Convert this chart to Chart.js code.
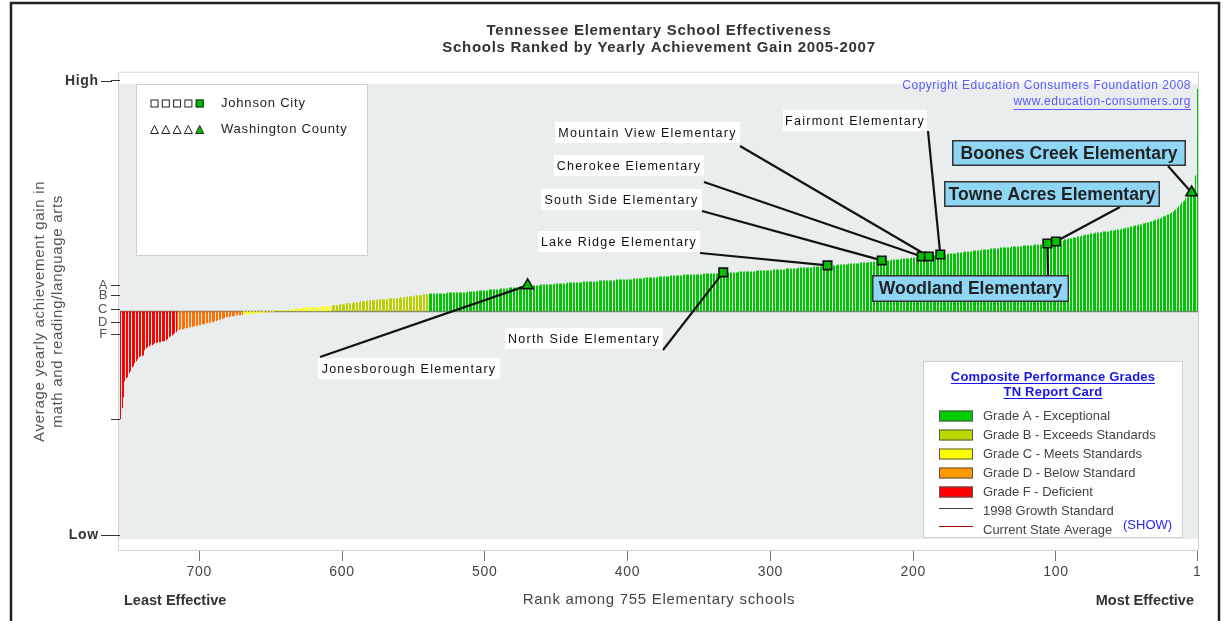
<!DOCTYPE html>
<html>
<head>
<meta charset="utf-8">
<title>Tennessee Elementary School Effectiveness</title>
<script src="https://cdn.jsdelivr.net/npm/chart.js@4.4.1/dist/chart.umd.min.js"></script>
<style>
  html, body { margin: 0; padding: 0; background: #fff; }
  #wrap { position: relative; width: 1228px; height: 621px; overflow: hidden; }
  canvas { display: block; }
</style>
</head>
<body>
<div id="wrap"><canvas id="chart" width="1228" height="621"></canvas></div>
<script>
// Yearly achievement gain of each school, in rank order (index 0 = rank 1, most effective).
// Units: 0 = 1998 growth standard, +-24 = top/bottom of the plot.
const gains = [
  22.3, 13.6, 12.3, 12.1, 11.9, 11.7, 11.5, 11.4, 11.3, 11.1,
  11.0, 10.9, 10.7, 10.5, 10.4, 10.2, 10.1, 10.0, 9.9, 9.8,
  9.7, 9.7, 9.6, 9.5, 9.5, 9.4, 9.3, 9.3, 9.2, 9.2,
  9.1, 9.1, 9.0, 9.0, 8.9, 8.9, 8.9, 8.8, 8.8, 8.7,
  8.7, 8.7, 8.6, 8.6, 8.6, 8.5, 8.5, 8.5, 8.4, 8.4,
  8.4, 8.3, 8.3, 8.3, 8.2, 8.2, 8.2, 8.2, 8.1, 8.1,
  8.1, 8.1, 8.0, 8.0, 8.0, 8.0, 8.0, 7.9, 7.9, 7.9,
  7.9, 7.9, 7.8, 7.8, 7.8, 7.8, 7.7, 7.7, 7.7, 7.6,
  7.6, 7.6, 7.5, 7.5, 7.5, 7.4, 7.4, 7.4, 7.3, 7.3,
  7.3, 7.2, 7.2, 7.2, 7.1, 7.1, 7.1, 7.1, 7.0, 7.0,
  7.0, 6.9, 6.9, 6.9, 6.8, 6.8, 6.8, 6.8, 6.8, 6.7,
  6.7, 6.7, 6.7, 6.7, 6.7, 6.6, 6.6, 6.6, 6.6, 6.6,
  6.6, 6.6, 6.6, 6.5, 6.5, 6.5, 6.5, 6.5, 6.5, 6.5,
  6.5, 6.4, 6.4, 6.4, 6.4, 6.4, 6.4, 6.4, 6.4, 6.3,
  6.3, 6.3, 6.3, 6.3, 6.3, 6.3, 6.2, 6.2, 6.2, 6.2,
  6.2, 6.2, 6.1, 6.1, 6.1, 6.1, 6.1, 6.1, 6.0, 6.0,
  6.0, 6.0, 6.0, 6.0, 5.9, 5.9, 5.9, 5.9, 5.9, 5.8,
  5.8, 5.8, 5.8, 5.8, 5.8, 5.7, 5.7, 5.7, 5.7, 5.7,
  5.7, 5.7, 5.6, 5.6, 5.6, 5.6, 5.6, 5.6, 5.5, 5.5,
  5.5, 5.5, 5.5, 5.5, 5.4, 5.4, 5.4, 5.4, 5.4, 5.4,
  5.4, 5.3, 5.3, 5.3, 5.3, 5.3, 5.3, 5.3, 5.2, 5.2,
  5.2, 5.2, 5.2, 5.2, 5.2, 5.1, 5.1, 5.1, 5.1, 5.1,
  5.1, 5.1, 5.0, 5.0, 5.0, 5.0, 5.0, 5.0, 5.0, 4.9,
  4.9, 4.9, 4.9, 4.9, 4.9, 4.9, 4.9, 4.8, 4.8, 4.8,
  4.8, 4.8, 4.8, 4.8, 4.8, 4.7, 4.7, 4.7, 4.7, 4.7,
  4.7, 4.7, 4.7, 4.6, 4.6, 4.6, 4.6, 4.6, 4.6, 4.6,
  4.5, 4.5, 4.5, 4.5, 4.5, 4.5, 4.5, 4.5, 4.5, 4.5,
  4.4, 4.4, 4.4, 4.4, 4.4, 4.4, 4.4, 4.4, 4.4, 4.4,
  4.3, 4.3, 4.3, 4.3, 4.3, 4.3, 4.3, 4.3, 4.3, 4.2,
  4.2, 4.2, 4.2, 4.2, 4.2, 4.2, 4.2, 4.2, 4.1, 4.1,
  4.1, 4.1, 4.1, 4.1, 4.1, 4.1, 4.1, 4.1, 4.1, 4.1,
  4.0, 4.0, 4.0, 4.0, 4.0, 4.0, 4.0, 4.0, 4.0, 4.0,
  4.0, 4.0, 3.9, 3.9, 3.9, 3.9, 3.9, 3.9, 3.9, 3.9,
  3.9, 3.9, 3.9, 3.8, 3.8, 3.8, 3.8, 3.8, 3.8, 3.8,
  3.8, 3.8, 3.8, 3.8, 3.8, 3.8, 3.8, 3.7, 3.7, 3.7,
  3.7, 3.7, 3.7, 3.7, 3.7, 3.7, 3.7, 3.7, 3.7, 3.7,
  3.7, 3.6, 3.6, 3.6, 3.6, 3.6, 3.6, 3.6, 3.6, 3.6,
  3.5, 3.5, 3.5, 3.5, 3.5, 3.5, 3.5, 3.5, 3.5, 3.4,
  3.4, 3.4, 3.4, 3.4, 3.4, 3.4, 3.4, 3.4, 3.3, 3.3,
  3.3, 3.3, 3.3, 3.3, 3.3, 3.3, 3.2, 3.2, 3.2, 3.2,
  3.2, 3.2, 3.2, 3.2, 3.2, 3.2, 3.2, 3.2, 3.1, 3.1,
  3.1, 3.1, 3.1, 3.1, 3.1, 3.1, 3.1, 3.1, 3.1, 3.1,
  3.0, 3.0, 3.0, 3.0, 3.0, 3.0, 3.0, 3.0, 3.0, 3.0,
  3.0, 2.9, 2.9, 2.9, 2.9, 2.9, 2.9, 2.9, 2.9, 2.9,
  2.9, 2.9, 2.8, 2.8, 2.8, 2.8, 2.8, 2.8, 2.8, 2.8,
  2.8, 2.7, 2.7, 2.7, 2.7, 2.7, 2.7, 2.7, 2.7, 2.7,
  2.7, 2.6, 2.6, 2.6, 2.6, 2.6, 2.6, 2.6, 2.6, 2.6,
  2.5, 2.5, 2.5, 2.5, 2.5, 2.5, 2.4, 2.4, 2.4, 2.4,
  2.4, 2.4, 2.4, 2.3, 2.3, 2.3, 2.3, 2.3, 2.3, 2.2,
  2.2, 2.2, 2.2, 2.2, 2.2, 2.2, 2.2, 2.1, 2.1, 2.1,
  2.1, 2.1, 2.1, 2.1, 2.1, 2.0, 2.0, 2.0, 2.0, 2.0,
  2.0, 2.0, 1.9, 1.9, 1.9, 1.9, 1.9, 1.9, 1.9, 1.9,
  1.9, 1.9, 1.9, 1.9, 1.9, 1.9, 1.8, 1.8, 1.8, 1.8,
  1.8, 1.8, 1.8, 1.8, 1.8, 1.8, 1.8, 1.8, 1.8, 1.7,
  1.7, 1.7, 1.7, 1.6, 1.6, 1.6, 1.6, 1.6, 1.6, 1.5,
  1.5, 1.5, 1.5, 1.5, 1.4, 1.4, 1.4, 1.4, 1.4, 1.3,
  1.3, 1.3, 1.3, 1.3, 1.3, 1.3, 1.3, 1.2, 1.2, 1.2,
  1.2, 1.2, 1.2, 1.2, 1.2, 1.1, 1.1, 1.1, 1.1, 1.1,
  1.1, 1.1, 1.0, 1.0, 1.0, 1.0, 1.0, 0.9, 0.9, 0.9,
  0.9, 0.9, 0.8, 0.8, 0.8, 0.8, 0.8, 0.7, 0.7, 0.7,
  0.7, 0.7, 0.6, 0.6, 0.6, 0.6, 0.6, 0.5, 0.5, 0.5,
  0.5, 0.5, 0.5, 0.5, 0.4, 0.4, 0.4, 0.4, 0.4, 0.4,
  0.4, 0.4, 0.4, 0.4, 0.4, 0.4, 0.4, 0.3, 0.3, 0.3,
  0.3, 0.3, 0.2, 0.2, 0.2, 0.2, 0.2, 0.1, 0.1, 0.1,
  0.1, 0.1, 0.1, 0.1, 0.1, 0.1, 0.1, -0.1, -0.1, -0.1,
  -0.1, -0.1, -0.1, -0.1, -0.2, -0.2, -0.2, -0.2, -0.2, -0.2,
  -0.2, -0.3, -0.3, -0.3, -0.3, -0.3, -0.3, -0.3, -0.3, -0.4,
  -0.4, -0.4, -0.4, -0.4, -0.5, -0.5, -0.5, -0.5, -0.6, -0.6,
  -0.6, -0.7, -0.7, -0.8, -0.8, -0.9, -0.9, -1.0, -1.0, -1.1,
  -1.1, -1.1, -1.2, -1.2, -1.2, -1.3, -1.3, -1.3, -1.4, -1.4,
  -1.4, -1.5, -1.5, -1.5, -1.6, -1.6, -1.6, -1.7, -1.7, -1.7,
  -1.8, -1.8, -1.8, -1.9, -1.9, -2.1, -2.2, -2.3, -2.4, -2.5,
  -2.6, -2.8, -2.9, -3.0, -3.0, -3.0, -3.1, -3.1, -3.1, -3.2,
  -3.2, -3.3, -3.4, -3.4, -3.5, -3.6, -3.7, -3.9, -4.4, -4.5,
  -4.5, -4.6, -4.8, -5.0, -5.2, -5.5, -5.6, -6.0, -6.2, -6.6,
  -6.7, -7.0, -8.6, -9.7, -10.8
];

// Composite performance grade: number of schools per grade, best ranks first
const gradeCounts = [539, 68, 62, 46, 40];
const gradeBarColors = ['#00c400', '#bccf00', '#ffff00', '#ff7000', '#ff0000'];
const gradeSwatchColors = ['#00cc00', '#bbd700', '#ffff00', '#ff9900', '#ff0000'];
const gradeLabels = ['Grade A - Exceptional', 'Grade B - Exceeds Standards', 'Grade C - Meets Standards',
  'Grade D - Below Standard', 'Grade F - Deficient'];

// Highlighted schools
const schoolNames = ['Jonesborough Elementary', 'North Side Elementary', 'Lake Ridge Elementary',
  'South Side Elementary', 'Cherokee Elementary', 'Mountain View Elementary', 'Fairmont Elementary',
  'Woodland Elementary', 'Towne Acres Elementary', 'Boones Creek Elementary'];
const schoolRanks = [470, 333, 260, 222, 194, 189, 181, 106, 100, 5];
const schoolDistricts = ['Washington County', 'Johnson City', 'Johnson City', 'Johnson City', 'Johnson City',
  'Johnson City', 'Johnson City', 'Johnson City', 'Johnson City', 'Washington County'];

const xTickValues = [700, 600, 500, 400, 300, 200, 100, 1];
const yTickValues = [23.1, 2.6, 1.6, 0.2, -1.1, -2.3, -10.8, -22.4];
const yTickLabels = ['High', 'A', 'B', 'C', 'D', 'F', '', 'Low'];

const chartTitle = ['Tennessee Elementary School Effectiveness', 'Schools Ranked by Yearly Achievement Gain 2005-2007'];
const xTitle = 'Rank among 755 Elementary schools';
const yTitle = ['Average yearly achievement gain in', 'math and reading/language arts'];

// where each callout box sits on the page, and where its leader line starts
const callouts = {
  'Jonesborough Elementary':  { box: [318, 358, 182, 21], from: [320, 357] },
  'North Side Elementary':    { box: [505, 328, 158, 21], from: [663, 350] },
  'Lake Ridge Elementary':    { box: [538, 231, 162, 21], from: [700, 253] },
  'South Side Elementary':    { box: [541, 189, 161, 21], from: [702, 211] },
  'Cherokee Elementary':      { box: [554, 155, 150, 21], from: [704, 182] },
  'Mountain View Elementary': { box: [555, 122, 185, 21], from: [740, 146] },
  'Fairmont Elementary':      { box: [783, 110, 144, 21], from: [928, 131] },
  'Woodland Elementary':      { box: [872, 275, 197, 27], from: [1048, 275], big: true },
  'Towne Acres Elementary':   { box: [944, 181, 216, 26], from: [1120, 207], big: true },
  'Boones Creek Elementary':  { box: [952, 140, 234, 26], from: [1168, 166], big: true }
};

const FONT = "'Liberation Sans', Arial, Helvetica, sans-serif";
Chart.defaults.font.family = FONT;
Chart.defaults.color = '#444';

function gradeOfRank(rank) {
  let total = 0;
  for (let g = 0; g < gradeCounts.length; g++) {
    total += gradeCounts[g];
    if (rank <= total) return g;
  }
  return gradeCounts.length - 1;
}

function isEndLabel(i) {
  return yTickLabels[i] === 'High' || yTickLabels[i] === 'Low';
}

function drawText(ctx, str, x, y, opts) {
  ctx.save();
  ctx.font = opts.font;
  ctx.fillStyle = opts.color || '#222';
  ctx.textAlign = opts.align || 'left';
  ctx.textBaseline = 'middle';
  ctx.letterSpacing = opts.spacing || '0px';
  ctx.fillText(str, x, y);
  if (opts.underline) {
    const w = ctx.measureText(str).width;
    let x0 = x;
    if (ctx.textAlign === 'center') x0 = x - w / 2;
    if (ctx.textAlign === 'right') x0 = x - w;
    ctx.strokeStyle = ctx.fillStyle;
    ctx.lineWidth = 1;
    ctx.beginPath();
    ctx.moveTo(x0, y + opts.underline + 0.5);
    ctx.lineTo(x0 + w, y + opts.underline + 0.5);
    ctx.stroke();
  }
  ctx.restore();
}

function drawSquare(ctx, cx, cy, s, fill) {
  ctx.fillStyle = fill;
  ctx.strokeStyle = '#222';
  ctx.lineWidth = 1;
  ctx.fillRect(cx - s / 2, cy - s / 2, s, s);
  ctx.strokeRect(cx - s / 2 + 0.5, cy - s / 2 + 0.5, s - 1, s - 1);
}

function drawTriangle(ctx, cx, cy, s, fill) {
  ctx.fillStyle = fill;
  ctx.strokeStyle = '#222';
  ctx.lineWidth = 1;
  ctx.beginPath();
  ctx.moveTo(cx, cy - s / 2);
  ctx.lineTo(cx + s / 2, cy + s / 2);
  ctx.lineTo(cx - s / 2, cy + s / 2);
  ctx.closePath();
  ctx.fill();
  ctx.stroke();
}

const decorPlugin = {
  id: 'decor',
  beforeLayout(chart) {
    chart.ctx.letterSpacing = '0.7px';
  },
  beforeDraw(chart) {
    const ctx = chart.ctx;
    const a = chart.chartArea;
    ctx.save();
    ctx.fillStyle = '#fff';
    ctx.fillRect(0, 0, chart.width, chart.height);
    // plot frame with gray field inside
    ctx.fillStyle = '#e9eded';
    ctx.fillRect(a.left - 1, a.top + 12, a.right - a.left + 1, a.bottom - a.top - 24);
    ctx.strokeStyle = '#d2d2d2';
    ctx.lineWidth = 1;
    ctx.strokeRect(a.left - 1.5, a.top + 0.5, a.right - a.left + 2, a.bottom - a.top - 1);
    // page border
    ctx.strokeStyle = '#222';
    ctx.lineWidth = 2.5;
    ctx.beginPath();
    ctx.moveTo(11, 640);
    ctx.lineTo(11, 3);
    ctx.lineTo(1219, 3);
    ctx.lineTo(1219, 640);
    ctx.stroke();
    // longer marks next to High / Low
    ctx.strokeStyle = '#333';
    ctx.lineWidth = 1;
    yTickValues.forEach((v, i) => {
      if (!isEndLabel(i)) return;
      const y = Math.round(chart.scales.y.getPixelForValue(v)) + 0.5;
      ctx.beginPath();
      ctx.moveTo(101, y);
      ctx.lineTo(112, y);
      ctx.stroke();
    });
    ctx.restore();
    chart.ctx.letterSpacing = '0.7px';
  },
  beforeDatasetsDraw(chart) {
    // 1998 growth standard line
    const ctx = chart.ctx;
    const a = chart.chartArea;
    const y0 = Math.round(chart.scales.y.getPixelForValue(0)) + 0.5;
    ctx.save();
    ctx.strokeStyle = '#7d7d7d';
    ctx.lineWidth = 1.5;
    ctx.beginPath();
    ctx.moveTo(a.left, y0);
    ctx.lineTo(a.right, y0);
    ctx.stroke();
    ctx.restore();
  },
  beforeDatasetDraw(chart, args) {
    if (args.meta.type !== 'bar') return;
    // snap the thin bars to whole pixels so they stay crisp
    args.meta.data.forEach(bar => {
      bar.x = Math.round(bar.x - 0.5) + 0.5;
      bar.width = 1;
    });
  },
  afterDatasetDraw(chart, args) {
    if (args.meta.type !== 'bar') return;
    // leader lines, over the bars and under the markers
    const ctx = chart.ctx;
    const xs = chart.scales.x, ys = chart.scales.y;
    ctx.save();
    ctx.strokeStyle = '#111';
    ctx.lineWidth = 2.2;
    schoolNames.forEach((name, i) => {
      const c = callouts[name];
      const r = schoolRanks[i];
      ctx.beginPath();
      ctx.moveTo(c.from[0], c.from[1]);
      ctx.lineTo(xs.getPixelForValue(r), ys.getPixelForValue(gains[r - 1]));
      ctx.stroke();
    });
    ctx.restore();
  },
  afterDraw(chart) {
    const ctx = chart.ctx;
    ctx.save();

    // callout boxes
    schoolNames.forEach(name => {
      const c = callouts[name];
      const [bx, by, bw, bh] = c.box;
      if (c.big) {
        ctx.fillStyle = '#8fd5f4';
        ctx.fillRect(bx, by, bw, bh);
        ctx.strokeStyle = '#333';
        ctx.lineWidth = 1.5;
        ctx.strokeRect(bx + 0.75, by + 0.75, bw - 1.5, bh - 1.5);
        drawText(ctx, name, bx + bw / 2, by + bh / 2 + 1, { font: 'bold 17.5px ' + FONT, color: '#222', align: 'center' });
      } else {
        ctx.fillStyle = '#fff';
        ctx.fillRect(bx, by, bw, bh);
        drawText(ctx, name, bx + bw / 2, by + bh / 2 + 1, { font: '12.5px ' + FONT, color: '#111', align: 'center', spacing: '1.25px' });
      }
    });

    // district legend (top left)
    ctx.fillStyle = '#fff';
    ctx.fillRect(136, 84, 232, 172);
    ctx.strokeStyle = '#d0d0d0';
    ctx.lineWidth = 1;
    ctx.strokeRect(136.5, 84.5, 231, 171);
    for (let k = 0; k < 5; k++) {
      const fill = k === 4 ? '#00c000' : '#fff';
      drawSquare(ctx, 154.5 + k * 11.3, 103.5, 8, fill);
      drawTriangle(ctx, 154.5 + k * 11.3, 129.5, 8, fill);
    }
    drawText(ctx, 'Johnson City', 221, 103, { font: '13px ' + FONT, color: '#222', spacing: '0.8px' });
    drawText(ctx, 'Washington County', 221, 129, { font: '13px ' + FONT, color: '#222', spacing: '0.8px' });

    // copyright
    drawText(ctx, 'Copyright Education Consumers Foundation 2008', 1191, 86, { font: '12px ' + FONT, color: '#5a5aff', align: 'right', spacing: '0.5px' });
    drawText(ctx, 'www.education-consumers.org', 1191, 102, { font: '12px ' + FONT, color: '#5a5aff', align: 'right', spacing: '0.5px', underline: 7 });

    // grade legend (bottom right)
    ctx.fillStyle = '#fff';
    ctx.fillRect(923, 361, 260, 177);
    ctx.strokeStyle = '#cfcfcf';
    ctx.strokeRect(923.5, 361.5, 259, 176);
    drawText(ctx, 'Composite Performance Grades', 1053, 377, { font: 'bold 13px ' + FONT, color: '#1515ee', align: 'center', spacing: '0.2px', underline: 6 });
    drawText(ctx, 'TN Report Card', 1053, 392, { font: 'bold 13px ' + FONT, color: '#1515ee', align: 'center', spacing: '0.2px', underline: 6 });
    gradeLabels.forEach((label, g) => {
      const cy = 416 + g * 19;
      ctx.fillStyle = gradeSwatchColors[g];
      ctx.fillRect(939, cy - 5.5, 34, 11);
      ctx.strokeStyle = '#555';
      ctx.lineWidth = 1;
      ctx.strokeRect(939.5, cy - 5, 33, 10);
      drawText(ctx, label, 983, cy, { font: '13px ' + FONT, color: '#444' });
    });
    ctx.lineWidth = 1.2;
    ctx.strokeStyle = '#444';
    ctx.beginPath(); ctx.moveTo(939, 508.5); ctx.lineTo(973, 508.5); ctx.stroke();
    ctx.strokeStyle = '#aa0000';
    ctx.beginPath(); ctx.moveTo(939, 526.5); ctx.lineTo(973, 526.5); ctx.stroke();
    drawText(ctx, '1998 Growth Standard', 983, 511, { font: '13px ' + FONT, color: '#444' });
    drawText(ctx, 'Current State Average', 983, 530, { font: '13px ' + FONT, color: '#444' });
    drawText(ctx, '(SHOW)', 1123, 525, { font: '13px ' + FONT, color: '#2222ee' });

    // axis end captions
    drawText(ctx, 'Least Effective', 124, 601, { font: 'bold 14.5px ' + FONT, color: '#333' });
    drawText(ctx, 'Most Effective', 1194, 601, { font: 'bold 14.5px ' + FONT, color: '#333', align: 'right' });

    ctx.restore();
  }
};

const barData = gains.map((g, i) => ({ x: i + 1, y: g }));
const barColors = gains.map((g, i) => gradeBarColors[gradeOfRank(i + 1)]);
const markerData = schoolRanks.map(r => ({ x: r, y: gains[r - 1] }));
const markerStyles = schoolDistricts.map(d => (d === 'Johnson City' ? 'rect' : 'triangle'));

new Chart(document.getElementById('chart'), {
  type: 'bar',
  data: {
    datasets: [
      {
        type: 'bar',
        order: 2,
        data: barData,
        backgroundColor: barColors,
        borderWidth: 0,
        barPercentage: 0.72,
        categoryPercentage: 1
      },
      {
        type: 'scatter',
        order: 1,
        data: markerData,
        pointStyle: markerStyles,
        pointRadius: markerStyles.map(s => (s === 'rect' ? 6 : 6.5)),
        backgroundColor: '#00c000',
        borderColor: '#111',
        borderWidth: 1.6
      }
    ]
  },
  options: {
    responsive: false,
    animation: false,
    events: [],
    layout: { padding: { left: 20, right: 30, top: 0, bottom: 10 } },
    plugins: {
      legend: { display: false },
      tooltip: { enabled: false },
      title: {
        display: true,
        text: chartTitle,
        fullSize: false,
        color: '#333',
        font: { size: 15, weight: 'bold', lineHeight: 1.14 },
        padding: { top: 22, bottom: 15.5 }
      }
    },
    scales: {
      x: {
        type: 'linear',
        reverse: true,
        min: 0.5,
        max: gains.length + 0.5,
        offset: false,
        afterBuildTicks: s => { s.ticks = xTickValues.map(v => ({ value: v })); },
        afterFit: s => { s.height = 60; },
        grid: { drawOnChartArea: false, tickLength: 10, color: '#777', offset: false },
        border: { display: false },
        ticks: { color: '#444', font: { size: 14 }, padding: 3, autoSkip: false, maxRotation: 0, callback: v => String(v) },
        title: { display: true, text: xTitle, color: '#444', font: { size: 15 }, padding: { top: 0, bottom: 2 } }
      },
      y: {
        type: 'linear',
        min: -24,
        max: 24,
        afterBuildTicks: s => { s.ticks = yTickValues.map(v => ({ value: v })); },
        afterFit: s => { s.width = 100; },
        grid: { drawOnChartArea: false, tickLength: 9, color: '#333' },
        border: { display: false },
        ticks: {
          autoSkip: false,
          padding: 3,
          callback: (v, i) => (isEndLabel(i) ? yTickLabels[i] + '  ' : yTickLabels[i]),
          color: c => (isEndLabel(c.index) ? '#333' : '#555'),
          font: c => (isEndLabel(c.index) ? { size: 14, weight: 'bold' } : { size: 13 })
        },
        title: { display: true, text: yTitle, color: '#555', font: { size: 15 }, padding: { top: 11, bottom: 0 } }
      }
    }
  },
  plugins: [decorPlugin]
});
</script>
</body>
</html>
